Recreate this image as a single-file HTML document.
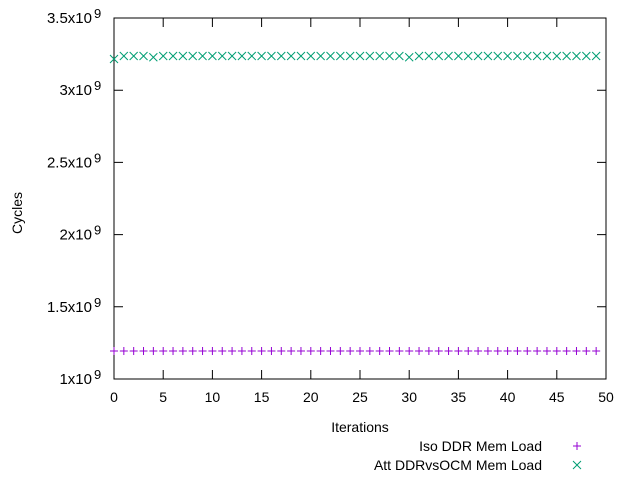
<!DOCTYPE html>
<html><head><meta charset="utf-8"><style>
body{margin:0;background:#fff}
svg{display:block;font-family:"Liberation Sans",sans-serif}
</style></head><body>
<svg id="chart" width="640" height="480" xmlns="http://www.w3.org/2000/svg">
<g id="axes"></g>
<g id="marks"></g>
<text x="0" y="0" transform="translate(22,213) rotate(-90)" text-anchor="middle" font-size="14">Cycles</text>
<text x="360" y="432" text-anchor="middle" font-size="14">Iterations</text>
<g>
<text x="542" y="451" text-anchor="end" font-size="14">Iso DDR Mem Load</text>
<path d="M573,446h8M577,442v8" stroke="#9400d3" stroke-width="1"/>
<text x="542" y="470" text-anchor="end" font-size="14">Att DDRvsOCM Mem Load</text>
<path d="M573,461l8,8M581,461l-8,8" stroke="#009e73" stroke-width="1"/>
</g>
</svg>
<script>
const yTicks=[1,1.5,2,2.5,3,3.5];
const yTickLabels=["1x10","1.5x10","2x10","2.5x10","3x10","3.5x10"];
const xTicks=[0,5,10,15,20,25,30,35,40,45,50];
const isoValues=[1.194,1.194,1.194,1.194,1.194,1.194,1.194,1.194,1.194,1.194,1.194,1.194,1.194,1.194,1.194,1.194,1.194,1.194,1.194,1.194,1.194,1.194,1.194,1.194,1.194,1.194,1.194,1.194,1.194,1.194,1.194,1.194,1.194,1.194,1.194,1.194,1.194,1.194,1.194,1.194,1.194,1.194,1.194,1.194,1.194,1.194,1.194,1.194,1.194,1.194];
const attValues=[3.216,3.237,3.237,3.237,3.228,3.237,3.237,3.237,3.237,3.237,3.237,3.237,3.237,3.237,3.237,3.237,3.237,3.237,3.237,3.237,3.237,3.237,3.237,3.237,3.237,3.237,3.237,3.237,3.237,3.237,3.228,3.237,3.237,3.237,3.237,3.237,3.237,3.237,3.237,3.237,3.237,3.237,3.237,3.237,3.237,3.237,3.237,3.237,3.237,3.237];
const L=114,R=606,T=18,B=379;
const xs=v=>L+(v-0)/50*(R-L);
const ys=v=>B-(v-1)/2.5*(B-T);
const NS="http://www.w3.org/2000/svg";
const axes=document.getElementById('axes'),marks=document.getElementById('marks');
function mk(tag,attrs,parent){const e=document.createElementNS(NS,tag);for(const k in attrs)e.setAttribute(k,attrs[k]);parent.appendChild(e);return e;}
const frame=mk('rect',{x:L,y:T,width:R-L,height:B-T,fill:'none',stroke:'#000','stroke-width':1},axes);


yTicks.forEach((v,i)=>{
 const y=ys(v);
 const t=mk('path',{d:`M${L},${y}h9M${R},${y}h-9`,stroke:'#000','stroke-width':1},axes);
 
 
 const tx=mk('text',{x:L-22,y:y+5,'text-anchor':'end','font-size':15},axes);
 
 
 tx.textContent=yTickLabels[i];
 const sup=mk('text',{x:L-20,y:y,'font-size':13},axes);
 
 
 sup.textContent='9';
});
xTicks.forEach(v=>{
 const x=xs(v);
 const t=mk('path',{d:`M${x},${B}v-9M${x},${T}v9`,stroke:'#000','stroke-width':1},axes);
 
 
 const tx=mk('text',{x:x,y:B+23,'text-anchor':'middle','font-size':14},axes);
 
 
 tx.textContent=v;
});
isoValues.forEach((v,i)=>{
 const x=xs(i),y=ys(v);
 const p=mk('path',{d:`M${x-4},${y}h8M${x},${y-4}v8`,stroke:'#9400d3','stroke-width':1},marks);
 
 
});
attValues.forEach((v,i)=>{
 const x=xs(i),y=ys(v);
 const p=mk('path',{d:`M${x-4},${y-4}l8,8M${x+4},${y-4}l-8,8`,stroke:'#009e73','stroke-width':1},marks);
 
 
});
</script>
</body></html>
